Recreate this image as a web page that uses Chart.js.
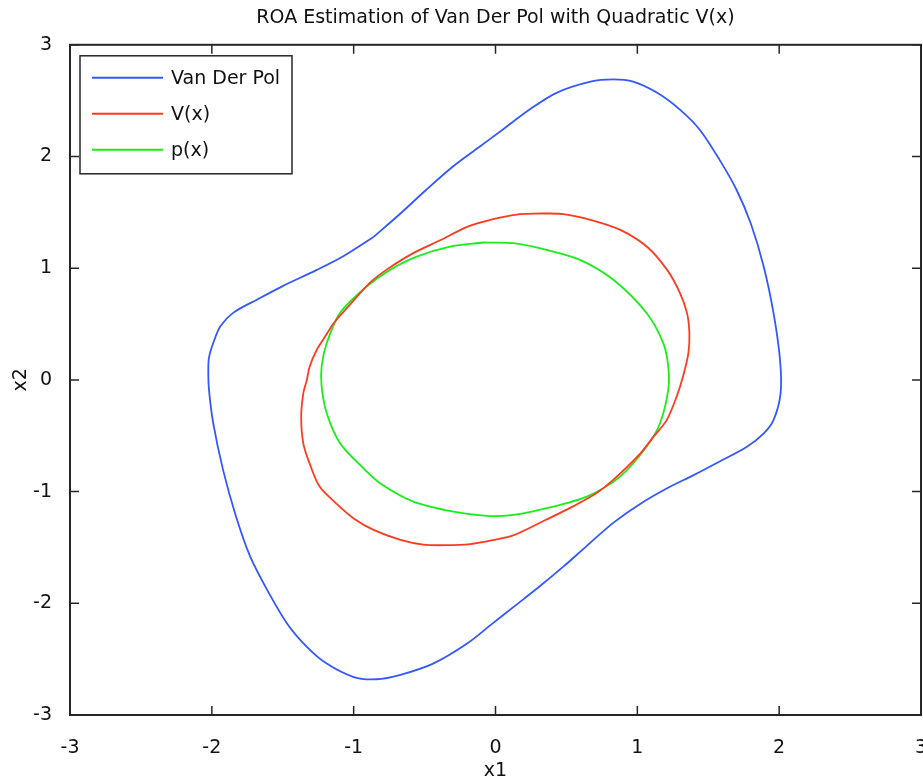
<!DOCTYPE html>
<html>
<head>
<meta charset="utf-8">
<script src="https://cdn.jsdelivr.net/npm/chart.js@4.4.1/dist/chart.umd.min.js"></script>
<style>
  html, body { margin: 0; padding: 0; background: #fff; }
  #wrap { width: 923px; height: 783px; }
</style>
</head>
<body>
<div id="wrap"><canvas id="roa" width="923" height="783"></canvas></div>
<script>
// values (x1, x2); each loop starts on a straight stretch
const vdpX = [-0.86, -0.67, -0.49, -0.30, -0.12, 0.05, 0.24, 0.43, 0.67, 0.83, 0.97, 1.14, 1.30, 1.44, 1.58, 1.70, 1.80, 1.89, 1.96, 2.006, 2.01, 1.96, 1.89, 1.77, 1.58, 1.40, 1.21, 1.02, 0.83, 0.64, 0.48, 0.31, 0.13, -0.02, -0.20, -0.44, -0.67, -0.84, -1.00, -1.19, -1.33, -1.47, -1.61, -1.73, -1.83, -1.92, -1.99, -2.02, -2.025, -2.02, -1.99, -1.94, -1.85, -1.68, -1.50, -1.26, -1.07, -0.86];
const vdpY = [1.28, 1.49, 1.70, 1.91, 2.08, 2.24, 2.42, 2.57, 2.67, 2.69, 2.67, 2.57, 2.42, 2.24, 1.97, 1.70, 1.40, 1.02, 0.60, 0.18, -0.12, -0.36, -0.48, -0.60, -0.73, -0.85, -0.97, -1.11, -1.28, -1.49, -1.67, -1.85, -2.03, -2.18, -2.36, -2.54, -2.64, -2.68, -2.66, -2.54, -2.39, -2.18, -1.88, -1.58, -1.22, -0.81, -0.39, -0.09, 0.09, 0.20, 0.33, 0.48, 0.60, 0.72, 0.84, 0.985, 1.11, 1.28];

const vX = [0.32, 0.48, 0.67, 0.88, 1.07, 1.21, 1.30, 1.35, 1.367, 1.36, 1.324, 1.277, 1.207, 1.113, 1.02, 0.83, 0.71, 0.55, 0.36, 0.13, -0.02, -0.18, -0.35, -0.51, -0.67, -0.86, -1.00, -1.12, -1.24, -1.31, -1.355, -1.37, -1.355, -1.33, -1.31, -1.26, -1.20, -1.14, -1.05, -0.885, -0.77, -0.58, -0.39, -0.20, -0.03, 0.15, 0.32];
const vY = [1.49, 1.485, 1.433, 1.343, 1.19, 0.985, 0.78, 0.60, 0.42, 0.24, 0.04, -0.15, -0.36, -0.51, -0.66, -0.895, -1.015, -1.13, -1.25, -1.39, -1.435, -1.47, -1.48, -1.475, -1.433, -1.343, -1.24, -1.11, -0.955, -0.75, -0.57, -0.33, -0.12, 0.0, 0.12, 0.27, 0.39, 0.51, 0.64, 0.87, 0.985, 1.135, 1.25, 1.37, 1.435, 1.48, 1.49];

const pX = [-0.086, 0.126, 0.36, 0.596, 0.831, 1.066, 1.183, 1.218, 1.218, 1.16, 1.066, 0.878, 0.643, 0.36, 0.126, -0.062, -0.297, -0.579, -0.814, -0.932, -1.096, -1.19, -1.226, -1.226, -1.19, -1.096, -0.908, -0.744, -0.556, -0.321, -0.086];
const pY = [1.23, 1.224, 1.164, 1.075, 0.896, 0.597, 0.329, 0.12, -0.09, -0.388, -0.597, -0.866, -1.045, -1.149, -1.209, -1.218, -1.18, -1.09, -0.925, -0.79, -0.567, -0.298, -0.06, 0.12, 0.33, 0.60, 0.836, 0.985, 1.104, 1.194, 1.23];

const seriesNames = ["Van Der Pol", "V(x)", "p(x)"];
const seriesColors = ["#3358ff", "#ff3b1f", "#19ee19"];
const tickVals = [-3, -2, -1, 0, 1, 2, 3];

const FONT = "'DejaVu Sans', sans-serif";

function pts(xs, ys) {
  return xs.map((x, i) => ({ x: x, y: ys[i] }));
}

// MATLAB style box with inward ticks + legend inside the axes
const matlabBox = {
  id: "matlabBox",
  afterDraw(chart) {
    const { ctx, chartArea: a, scales } = chart;
    const tl = 9;
    ctx.save();
    ctx.strokeStyle = "#262626";
    ctx.lineWidth = 1.5;
    ctx.beginPath();
    tickVals.forEach((v) => {
      const px = scales.x.getPixelForValue(v);
      ctx.moveTo(px, a.bottom); ctx.lineTo(px, a.bottom - tl);
      ctx.moveTo(px, a.top); ctx.lineTo(px, a.top + tl);
      const py = scales.y.getPixelForValue(v);
      ctx.moveTo(a.left, py); ctx.lineTo(a.left + tl, py);
      ctx.moveTo(a.right, py); ctx.lineTo(a.right - tl, py);
    });
    ctx.stroke();
    ctx.lineWidth = 2;
    ctx.strokeRect(a.left, a.top, a.right - a.left, a.bottom - a.top);

    // legend
    const lx = a.left + 10, ly = a.top + 11, lw = 212, lh = 118;
    ctx.fillStyle = "#fff";
    ctx.fillRect(lx, ly, lw, lh);
    ctx.lineWidth = 1.5;
    ctx.strokeRect(lx, ly, lw, lh);
    ctx.font = "19px " + FONT;
    ctx.textBaseline = "middle";
    ctx.textAlign = "left";
    chart.data.datasets.forEach((ds, i) => {
      const y = ly + 22 + i * 36;
      ctx.strokeStyle = ds.borderColor;
      ctx.lineWidth = 2;
      ctx.beginPath();
      ctx.moveTo(lx + 12, y);
      ctx.lineTo(lx + 83, y);
      ctx.stroke();
      ctx.fillStyle = "#111";
      ctx.fillText(ds.label, lx + 91, y + 1);
    });
    ctx.restore();
  },
};

new Chart(document.getElementById("roa"), {
  type: "scatter",
  data: {
    datasets: [
      { label: seriesNames[0], data: pts(vdpX, vdpY), borderColor: seriesColors[0] },
      { label: seriesNames[1], data: pts(vX, vY), borderColor: seriesColors[1] },
      { label: seriesNames[2], data: pts(pX, pY), borderColor: seriesColors[2] },
    ].map((d) => Object.assign(d, {
      showLine: true,
      pointRadius: 0,
      borderWidth: 1.8,
      tension: 0.3,
      fill: false,
    })),
  },
  options: {
    responsive: false,
    animation: false,
    layout: { padding: { top: 0, right: 2, bottom: 0, left: 0 } },
    plugins: {
      legend: { display: false },
      tooltip: { enabled: false },
      title: {
        display: true,
        text: "ROA Estimation of Van Der Pol with Quadratic V(x)",
        fullSize: false,
        color: "#111",
        font: { family: FONT, size: 19, weight: "normal" },
        padding: { top: 7, bottom: 15 },
      },
    },
    scales: {
      x: {
        type: "linear",
        min: -3,
        max: 3,
        afterFit: (s) => { s.height = 68; s.paddingLeft = 0; s.paddingRight = 0; },
        afterBuildTicks: (s) => { s.ticks = tickVals.map((v) => ({ value: v })); },
        grid: { display: false },
        border: { display: false },
        ticks: { color: "#111", padding: 14, font: { family: FONT, size: 19 } },
        title: {
          display: true,
          text: "x1",
          color: "#111",
          font: { family: FONT, size: 19 },
          padding: { top: 0, bottom: 1 },
        },
      },
      y: {
        type: "linear",
        min: -3,
        max: 3,
        afterFit: (s) => { s.width = 70; s.paddingTop = 0; s.paddingBottom = 0; },
        afterBuildTicks: (s) => { s.ticks = tickVals.map((v) => ({ value: v })); },
        grid: { display: false },
        border: { display: false },
        ticks: { color: "#111", padding: 10, font: { family: FONT, size: 19 } },
        title: {
          display: true,
          text: "x2",
          color: "#111",
          font: { family: FONT, size: 19 },
          padding: { top: 10, bottom: 0 },
        },
      },
    },
  },
  plugins: [matlabBox],
});
</script>
</body>
</html>
